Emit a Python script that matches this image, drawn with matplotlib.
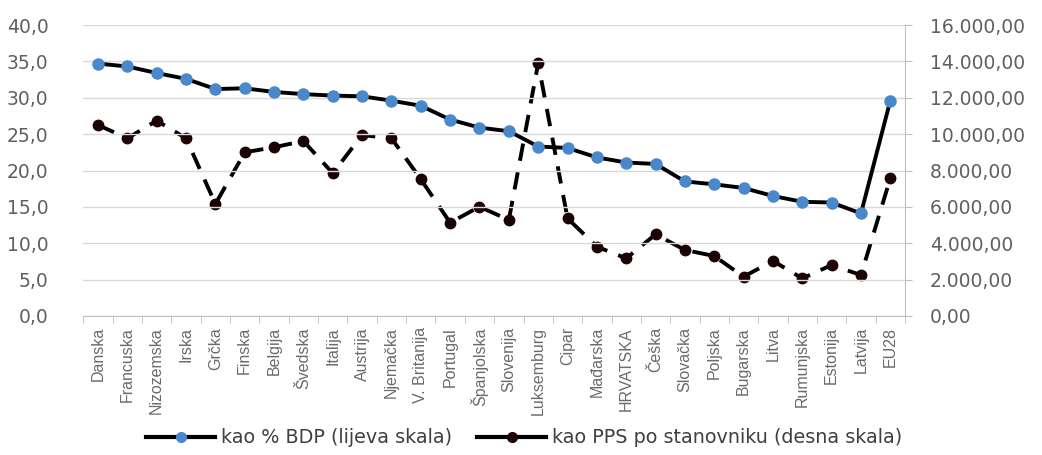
import matplotlib
matplotlib.use("Agg")
import matplotlib.pyplot as plt
import matplotlib.ticker as ticker
from matplotlib.lines import Line2D

# ── data ─────────────────────────────────────────────────────────────────────
countries = ["Danska", "Francuska", "Nizozemska", "Irska", "Grčka", "Finska",
             "Belgija", "Švedska", "Italija", "Austrija", "Njemačka",
             "V. Britanija", "Portugal", "Španjolska", "Slovenija",
             "Luksemburg", "Cipar", "Mađarska", "HRVATSKA", "Češka",
             "Slovačka", "Poljska", "Bugarska", "Litva", "Rumunjska",
             "Estonija", "Latvija", "EU28"]

pct_bdp = [34.7, 34.3, 33.4, 32.6, 31.2, 31.3, 30.8, 30.5, 30.3, 30.2, 29.6,
           28.9, 27.0, 25.9, 25.4, 23.3, 23.1, 21.8, 21.1, 20.9, 18.5, 18.1,
           17.6, 16.5, 15.7, 15.6, 14.1, 29.6]

pps_per_capita = [10500, 9770, 10740, 9770, 6160, 9000, 9280, 9620, 7850,
                  9950, 9770, 7520, 5130, 6010, 5280, 13900, 5370, 3810,
                  3170, 4490, 3630, 3300, 2160, 3030, 2070, 2800, 2250, 7570]

legend_labels = ["kao % BDP (lijeva skala)", "kao PPS po stanovniku (desna skala)"]

# ── style ────────────────────────────────────────────────────────────────────
GRAY_TXT = "#606060"
GRID = "#d9d9d9"
BLUE = "#4a88cc"
DARKRED = "#1c0303"

plt.rcParams["font.family"] = ["DejaVu Sans"]

fig = plt.figure(figsize=(10.42, 4.55), dpi=100)
ax = fig.add_axes([0.080, 0.3055, 0.7885, 0.6395])
ax2 = ax.twinx()

x = list(range(len(countries)))

ax2.plot(x, pps_per_capita, color="black", lw=2.8, ls=(0, (4.5, 3)),
         marker="o", markersize=7.5, markerfacecolor=DARKRED,
         markeredgecolor=DARKRED, zorder=3)
ax.plot(x, pct_bdp, color="black", lw=2.8, marker="o", markersize=8,
        markerfacecolor=BLUE, markeredgecolor=BLUE, zorder=3)

ax.set_zorder(ax2.get_zorder() + 1)
ax.patch.set_visible(False)

ax.set_xlim(-0.5, len(countries) - 0.5)
ax.set_ylim(0, 40)
ax2.set_ylim(0, 16000)
ax.set_yticks([0, 5, 10, 15, 20, 25, 30, 35, 40])
ax2.set_yticks(range(0, 16001, 2000))

ax.yaxis.set_major_formatter(ticker.FuncFormatter(lambda v, p: f"{v:.1f}".replace(".", ",")))
ax2.yaxis.set_major_formatter(ticker.FuncFormatter(
    lambda v, p: f"{v:,.2f}".replace(",", "X").replace(".", ",").replace("X", ".")))

ax.grid(True, axis="y", color=GRID, lw=1)
ax.set_axisbelow(True)

ax.set_xticks(x)
ax.set_xticklabels(countries, rotation=90, fontsize=11.5, color="#6a6a6a",
                   family=["Liberation Sans Narrow", "Liberation Sans"])
ax.set_xticks([i - 0.5 for i in range(len(countries) + 1)], minor=True)
ax.tick_params(axis="x", which="major", length=0, pad=8)
ax.tick_params(axis="x", which="minor", length=5, color="#bfbfbf")

ax.tick_params(axis="y", length=0, labelsize=13.5, labelcolor=GRAY_TXT, pad=25)
ax2.tick_params(axis="y", length=5, color="#bfbfbf", labelsize=13.5,
                labelcolor=GRAY_TXT, pad=13)

for s in ["top", "left"]:
    ax.spines[s].set_visible(False)
    ax2.spines[s].set_visible(False)
ax.spines["right"].set_visible(False)
ax.spines["bottom"].set_color("#bfbfbf")
ax2.spines["bottom"].set_visible(False)
ax2.spines["right"].set_color("#bfbfbf")

# legend handles: solid line with dot, as in the original
handles = [
    Line2D([], [], color="black", lw=3, marker="o", markersize=7,
           markerfacecolor=BLUE, markeredgecolor=BLUE),
    Line2D([], [], color="black", lw=3, marker="o", markersize=7,
           markerfacecolor=DARKRED, markeredgecolor=DARKRED),
]
fig.legend(handles, legend_labels, loc="center", bbox_to_anchor=(0.503, 0.038),
           ncol=2, frameon=False, fontsize=13.8, labelcolor="#404040",
           handlelength=3.6, columnspacing=1.3, handletextpad=0.3)

fig.savefig("out.png", dpi=100, facecolor="white")
